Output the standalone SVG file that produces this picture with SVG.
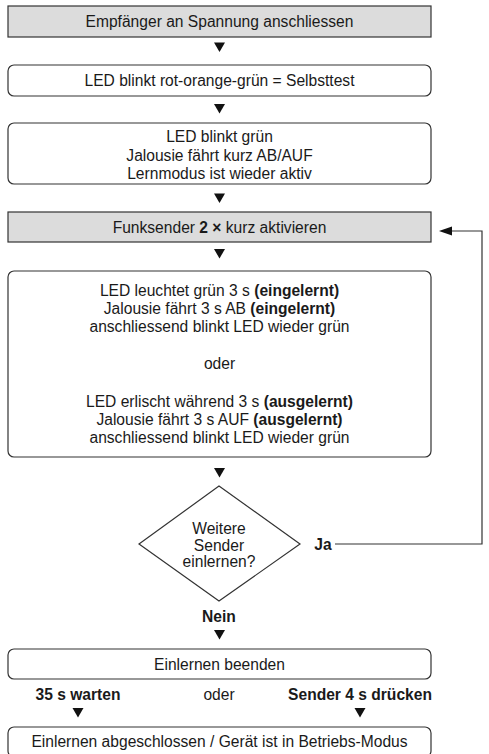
<svg xmlns="http://www.w3.org/2000/svg" width="489" height="754" viewBox="0 0 489 754">
<style>
  text{font-family:"Liberation Sans",Arial,Helvetica,sans-serif;font-size:15.6px;fill:#1a1a1a;text-anchor:middle}
  .b{font-weight:bold}
  .grey{fill:#dcdcdc;stroke:#333;stroke-width:1.2}
  .box{fill:#fff;stroke:#333;stroke-width:1.2}
  .line{fill:none;stroke:#333;stroke-width:1.2}
  .tri{fill:#111}
</style>
<defs>
  <path id="tri" d="M-5.5,0 L5.5,0 L0,9.5 Z"/>
</defs>
<rect width="489" height="754" fill="#fff"/>

<g id="connectors">
  <use href="#tri" class="tri" x="219.5" y="42.5"/>
  <use href="#tri" class="tri" x="219.5" y="104"/>
  <use href="#tri" class="tri" x="219.5" y="193.5"/>
  <use href="#tri" class="tri" x="219.5" y="249"/>
  <use href="#tri" class="tri" x="219.5" y="468"/>
  <use href="#tri" class="tri" x="219.5" y="630"/>
  <use href="#tri" class="tri" x="78" y="708"/>
  <use href="#tri" class="tri" x="360" y="708"/>
  <polyline class="line" points="335,544 482,544 482,231 450,231"/>
  <path class="tri" d="M439,231 L452,226.5 L452,235.5 Z"/>
</g>

<g id="n1">
  <rect class="grey" x="8" y="6" width="423" height="31"/>
  <text x="219.5" y="27">Empfänger an Spannung anschliessen</text>
</g>
<g id="n2">
  <rect class="box" x="8" y="65" width="423" height="31" rx="6"/>
  <text x="219.5" y="86">LED blinkt rot-orange-grün = Selbsttest</text>
</g>
<g id="n3">
  <rect class="box" x="8" y="123" width="423" height="61" rx="6"/>
  <text x="219.5" y="142">LED blinkt grün</text>
  <text x="219.5" y="160.5">Jalousie fährt kurz AB/AUF</text>
  <text x="219.5" y="179">Lernmodus ist wieder aktiv</text>
</g>
<g id="n4">
  <rect class="grey" x="8" y="212" width="423" height="30"/>
  <text x="219.5" y="232.5">Funksender <tspan class="b">2 ×</tspan> kurz aktivieren</text>
</g>
<g id="n5">
  <rect class="box" x="8" y="271" width="423" height="186" rx="6"/>
  <text x="219.5" y="296">LED leuchtet grün 3 s <tspan class="b">(eingelernt)</tspan></text>
  <text x="219.5" y="314">Jalousie fährt 3 s AB <tspan class="b">(eingelernt)</tspan></text>
  <text x="219.5" y="332">anschliessend blinkt LED wieder grün</text>
  <text x="219.5" y="369">oder</text>
  <text x="219.5" y="407">LED erlischt während 3 s <tspan class="b">(ausgelernt)</tspan></text>
  <text x="219.5" y="425">Jalousie fährt 3 s AUF <tspan class="b">(ausgelernt)</tspan></text>
  <text x="219.5" y="443">anschliessend blinkt LED wieder grün</text>
</g>
<g id="n6">
  <polygon class="box" points="219,486 300,544 219,601 139,544"/>
  <text x="219" y="534">Weitere</text>
  <text x="219" y="550.5">Sender</text>
  <text x="219" y="567">einlernen?</text>
</g>
<g id="labels">
  <text class="b" x="323" y="550">Ja</text>
  <text class="b" x="219" y="622">Nein</text>
  <text class="b" x="78" y="700">35 s warten</text>
  <text x="219" y="700">oder</text>
  <text class="b" x="360" y="700">Sender 4 s drücken</text>
</g>
<g id="n7">
  <rect class="box" x="8" y="649" width="423" height="30" rx="6"/>
  <text x="219.5" y="669.5">Einlernen beenden</text>
</g>
<g id="n8">
  <rect class="box" x="8" y="727" width="423" height="30" rx="6"/>
  <text x="219.5" y="747">Einlernen abgeschlossen / Gerät ist in Betriebs-Modus</text>
</g>
</svg>
